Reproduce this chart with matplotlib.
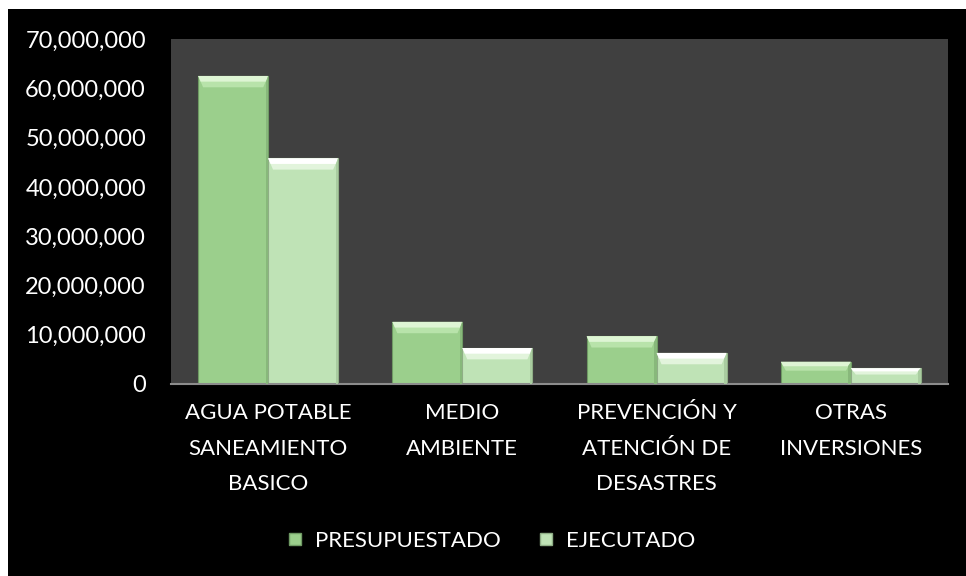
import numpy as np
import matplotlib
matplotlib.use("Agg")
import matplotlib.pyplot as plt
from matplotlib.patches import Rectangle, Polygon
from matplotlib.ticker import FuncFormatter

categorias = ["AGUA POTABLE\nSANEAMIENTO\nBASICO", "MEDIO\nAMBIENTE",
              "PREVENCIÓN Y\nATENCIÓN DE\nDESASTRES", "OTRAS\nINVERSIONES"]
presupuestado = [62500000, 12600000, 9700000, 4500000]
ejecutado = [45800000, 7300000, 6300000, 3200000]

plt.rcParams['font.family'] = ['Lato', 'DejaVu Sans']
fs = 16

fig = plt.figure(figsize=(9.66, 5.76), dpi=100, facecolor="white")
# fondo negro con pequeño margen blanco arriba/izquierda
fig.patches.append(Rectangle((8 / 966, 0), 1, 1 - 9 / 576, transform=fig.transFigure,
                             facecolor="black", edgecolor="none", zorder=0))

ax = fig.add_axes([171 / 966, 192 / 576, 777 / 966, 345 / 576])
ax.set_zorder(2)
ax.set_facecolor("#404040")

x = np.arange(len(categorias))
w = 0.36
c_pre = "#9bcf8c"
c_eje = "#bfe3b6"
b1 = ax.bar(x - w / 2, presupuestado, w, color=c_pre, edgecolor="#6f9a64", linewidth=0.8,
            label="PRESUPUESTADO", zorder=2)
b2 = ax.bar(x + w / 2, ejecutado, w, color=c_eje, edgecolor="#8fae86", linewidth=0.8,
            label="EJECUTADO", zorder=2)


def bisel(barras, luz1, luz2, sombra):
    # franjas para imitar el efecto biselado de Excel
    for r in barras:
        x0, y0 = r.get_x(), r.get_y()
        bw, bh = r.get_width(), r.get_height()
        d = 0.07 * bw
        dy = min(2300000, 0.4 * bh)
        tope = y0 + bh
        ax.add_patch(Polygon([(x0, tope), (x0 + bw, tope), (x0 + bw - d, tope - dy),
                              (x0 + d, tope - dy)], closed=True, facecolor=luz2,
                             edgecolor="none", zorder=3))
        ax.add_patch(Polygon([(x0, tope), (x0 + bw, tope), (x0 + bw - d / 2, tope - dy / 2),
                              (x0 + d / 2, tope - dy / 2)], closed=True, facecolor=luz1,
                             edgecolor="none", zorder=3))
        ax.add_patch(Polygon([(x0 + bw, tope), (x0 + bw, y0), (x0 + bw - d / 2, y0),
                              (x0 + bw - d / 2, tope - dy / 2)], closed=True,
                             facecolor=sombra, edgecolor="none", zorder=3))


bisel(b1, "#def5d4", "#b8e3aa", "#88b87b")
bisel(b2, "#ffffff", "#e2f4dc", "#a9cca0")

ax.set_ylim(0, 70000000)
ax.set_xlim(-0.5, len(categorias) - 0.5)
ax.set_yticks(np.arange(0, 70000001, 10000000))
ax.yaxis.set_major_formatter(FuncFormatter(lambda v, p: f"{int(v):,}"))
ax.set_xticks(x)
ax.set_xticklabels(categorias, linespacing=1.95)
ax.tick_params(axis="both", colors="white", labelsize=fs, length=0)
ax.tick_params(axis="y", pad=18, labelsize=17)
ax.tick_params(axis="x", pad=14)
for s in ["top", "right", "left"]:
    ax.spines[s].set_visible(False)
ax.spines["bottom"].set_color("#8c8c8c")
ax.spines["bottom"].set_linewidth(1.5)

h1 = plt.Line2D([], [], marker="s", linestyle="none", markersize=9,
                markerfacecolor=c_pre, markeredgecolor="#6f9a64")
h2 = plt.Line2D([], [], marker="s", linestyle="none", markersize=9,
                markerfacecolor=c_eje, markeredgecolor="#8fae86")
fig.legend([h1, h2], ["PRESUPUESTADO", "EJECUTADO"], loc="center",
           bbox_to_anchor=(0.508, 1 - 541 / 576), ncol=2, frameon=False,
           fontsize=fs, labelcolor="white", handlelength=0.8, handletextpad=0.5,
           columnspacing=1.6)

fig.savefig("out.png", dpi=100, facecolor=fig.get_facecolor())
